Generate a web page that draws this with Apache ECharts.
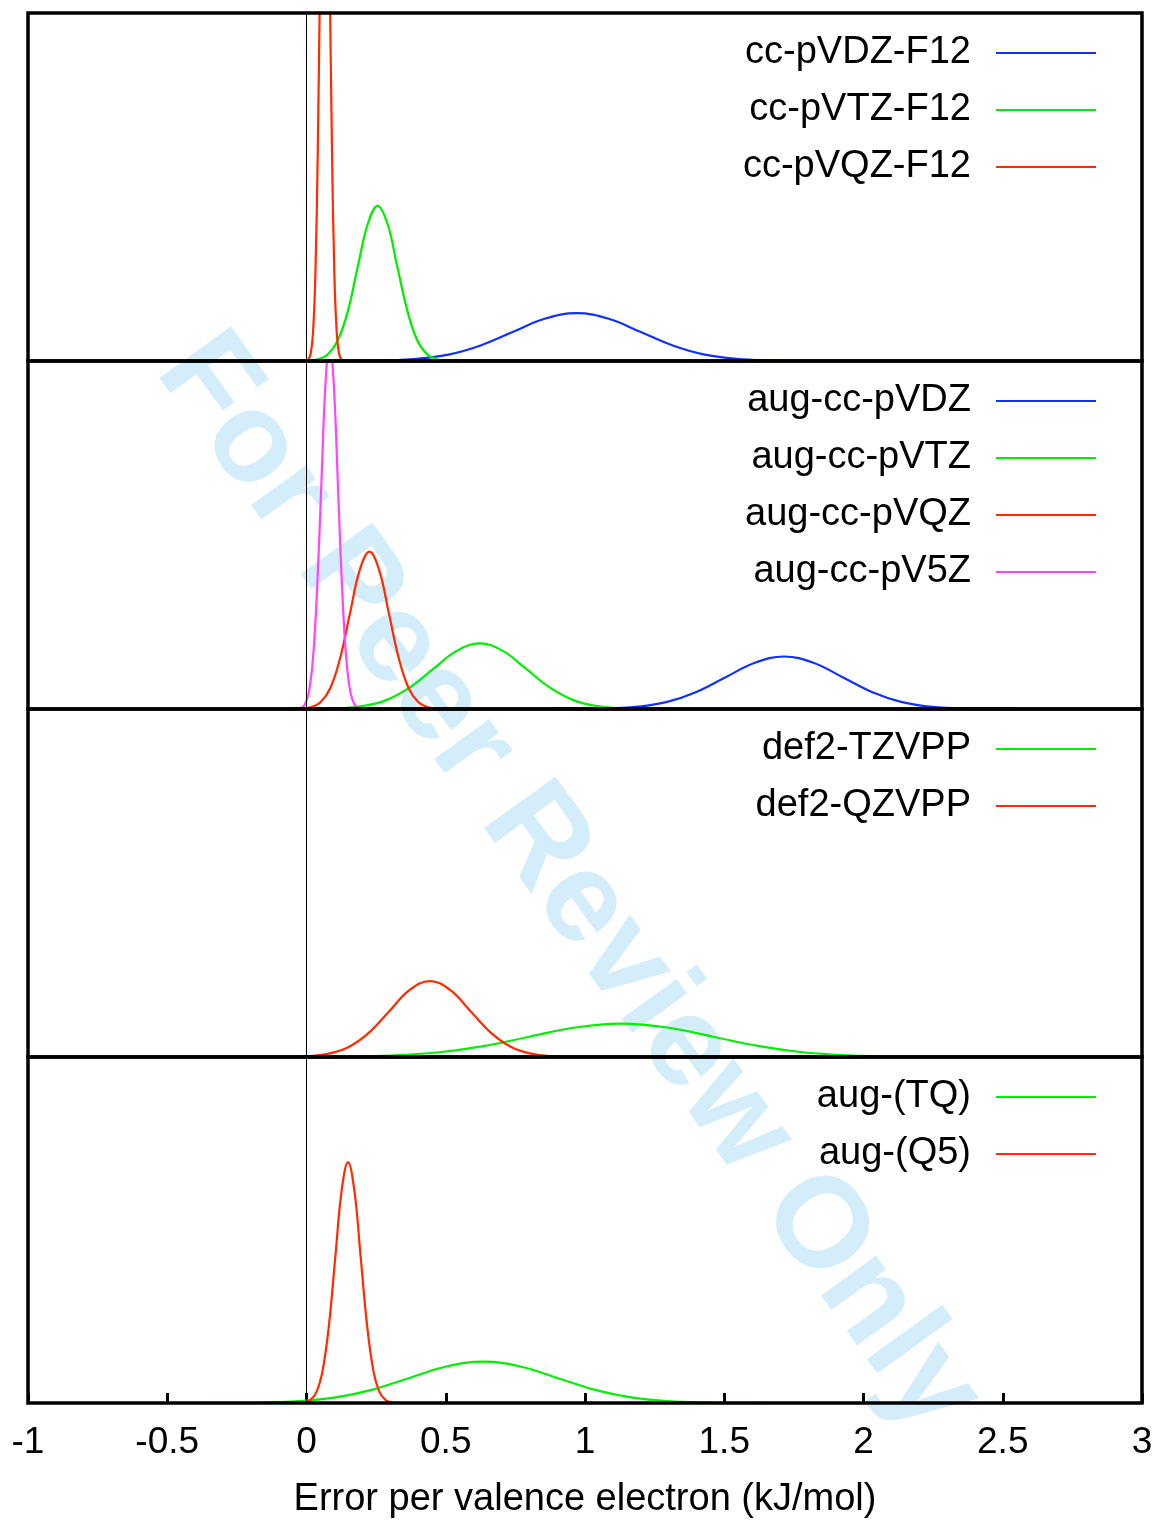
<!DOCTYPE html>
<html>
<head>
<meta charset="utf-8">
<script src="https://cdn.jsdelivr.net/npm/echarts@6/dist/echarts.min.js"></script>
<style>
html,body{margin:0;padding:0;background:#fff;}
#chart{width:1160px;height:1520px;}
</style>
</head>
<body>
<div id="chart"></div>
<script>
// ---------- data ----------
const xTickLabels = ['-1', '-0.5', '0', '0.5', '1', '1.5', '2', '2.5', '3'];
const xAxisName = 'Error per valence electron (kJ/mol)';
const watermarkText = 'For Peer Review Only';

// Panel 1
const ccVDZF12_x = [0.05, 0.165, 0.28, 0.395, 0.51, 0.625, 0.74, 0.855, 0.97, 1.085, 1.2, 1.315, 1.43, 1.545, 1.66, 1.775, 1.89];
const ccVDZF12_y = [0.00, 0.00, 0.02, 0.08, 0.23, 0.56, 1.05, 1.53, 1.73, 1.53, 1.05, 0.56, 0.23, 0.08, 0.02, 0.00, 0.00];
const ccVTZF12_x = [-0.029, 0.006, 0.042, 0.077, 0.113, 0.149, 0.184, 0.220, 0.255, 0.291, 0.326, 0.362, 0.397, 0.433, 0.468, 0.504, 0.539];
const ccVTZF12_y = [0.002, 0.012, 0.062, 0.247, 0.760, 1.825, 3.409, 4.960, 5.62, 4.960, 3.409, 1.825, 0.760, 0.247, 0.062, 0.012, 0.002];
const ccVQZF12_x = [-0.002, 0.0065, 0.015, 0.0235, 0.032, 0.0405, 0.049, 0.0575, 0.066, 0.0745, 0.083, 0.0915, 0.100, 0.1085, 0.117, 0.1255, 0.134];
const ccVQZF12_y = [0.008, 0.052, 0.261, 1.032, 3.180, 7.630, 14.25, 20.74, 23.5, 20.74, 14.25, 7.630, 3.180, 1.032, 0.261, 0.052, 0.008];

// Panel 2
const augVDZ_x = [0.875, 0.98, 1.085, 1.19, 1.295, 1.40, 1.505, 1.61, 1.715, 1.82, 1.925, 2.03, 2.135, 2.24, 2.345, 2.45, 2.555];
const augVDZ_y = [0.001, 0.004, 0.021, 0.083, 0.257, 0.617, 1.152, 1.677, 1.90, 1.677, 1.152, 0.617, 0.257, 0.083, 0.021, 0.004, 0.001];
const augVTZ_x = [-0.05, 0.034, 0.118, 0.202, 0.286, 0.37, 0.454, 0.538, 0.622, 0.706, 0.79, 0.874, 0.958, 1.042, 1.126, 1.21, 1.294];
const augVTZ_y = [0.001, 0.005, 0.026, 0.104, 0.321, 0.771, 1.440, 2.096, 2.375, 2.096, 1.440, 0.771, 0.321, 0.104, 0.026, 0.005, 0.001];
const augVQZ_x = [-0.054, -0.019, 0.016, 0.051, 0.086, 0.121, 0.156, 0.191, 0.226, 0.261, 0.296, 0.331, 0.366, 0.401, 0.436, 0.471, 0.506];
const augVQZ_y = [0.002, 0.013, 0.063, 0.250, 0.771, 1.851, 3.457, 5.030, 5.70, 5.030, 3.457, 1.851, 0.771, 0.250, 0.063, 0.013, 0.002];
const augV5Z_x = [-0.037, -0.022, -0.007, 0.008, 0.023, 0.038, 0.053, 0.068, 0.083, 0.098, 0.113, 0.128, 0.143, 0.158, 0.173, 0.188, 0.203];
const augV5Z_y = [0.004, 0.029, 0.148, 0.584, 1.800, 4.319, 8.066, 11.737, 13.3, 11.737, 8.066, 4.319, 1.800, 0.584, 0.148, 0.029, 0.004];

// Panel 3
const def2TZVPP_x = [-0.19, -0.025, 0.14, 0.305, 0.47, 0.635, 0.80, 0.965, 1.13, 1.295, 1.46, 1.625, 1.79, 1.955, 2.12, 2.285, 2.45];
const def2TZVPP_y = [0.000, 0.003, 0.013, 0.053, 0.164, 0.393, 0.734, 1.068, 1.21, 1.068, 0.734, 0.393, 0.164, 0.053, 0.013, 0.003, 0.000];
const def2QZVPP_x = [-0.137, -0.0645, 0.008, 0.0805, 0.153, 0.2255, 0.298, 0.3705, 0.443, 0.5155, 0.588, 0.6605, 0.733, 0.8055, 0.878, 0.9505, 1.023];
const def2QZVPP_y = [0.001, 0.006, 0.031, 0.121, 0.372, 0.893, 1.668, 2.427, 2.75, 2.427, 1.668, 0.893, 0.372, 0.121, 0.031, 0.006, 0.001];

// Panel 4
const augTQ_x = [-0.425, -0.2925, -0.16, -0.0275, 0.105, 0.2375, 0.37, 0.5025, 0.635, 0.7675, 0.90, 1.0325, 1.165, 1.2975, 1.43, 1.5625, 1.695];
const augTQ_y = [0.000, 0.003, 0.017, 0.066, 0.204, 0.489, 0.913, 1.328, 1.505, 1.328, 0.913, 0.489, 0.204, 0.066, 0.017, 0.003, 0.000];
const augQ5_x = [-0.033, -0.0103, 0.0125, 0.0353, 0.058, 0.0808, 0.1035, 0.1263, 0.149, 0.1718, 0.1945, 0.2173, 0.24, 0.2628, 0.2855, 0.3083, 0.331];
const augQ5_y = [0.003, 0.019, 0.097, 0.385, 1.187, 2.848, 5.319, 7.740, 8.77, 7.740, 5.319, 2.848, 1.187, 0.385, 0.097, 0.019, 0.003];

const panels = [
  [ {name: 'cc-pVDZ-F12', x: ccVDZF12_x, y: ccVDZF12_y, color: 'blue'},
    {name: 'cc-pVTZ-F12', x: ccVTZF12_x, y: ccVTZF12_y, color: 'green'},
    {name: 'cc-pVQZ-F12', x: ccVQZF12_x, y: ccVQZF12_y, color: 'red'} ],
  [ {name: 'aug-cc-pVDZ', x: augVDZ_x, y: augVDZ_y, color: 'blue'},
    {name: 'aug-cc-pVTZ', x: augVTZ_x, y: augVTZ_y, color: 'green'},
    {name: 'aug-cc-pVQZ', x: augVQZ_x, y: augVQZ_y, color: 'red'},
    {name: 'aug-cc-pV5Z', x: augV5Z_x, y: augV5Z_y, color: 'magenta'} ],
  [ {name: 'def2-TZVPP', x: def2TZVPP_x, y: def2TZVPP_y, color: 'green'},
    {name: 'def2-QZVPP', x: def2QZVPP_x, y: def2QZVPP_y, color: 'red'} ],
  [ {name: 'aug-(TQ)', x: augTQ_x, y: augTQ_y, color: 'green'},
    {name: 'aug-(Q5)', x: augQ5_x, y: augQ5_y, color: 'red'} ]
];

// ---------- styling / layout ----------
const COLORS = {blue: '#1030ff', green: '#00ee00', red: '#ff2a00', magenta: '#ff44ff'};
const FONT = "'Liberation Sans', Arial, Helvetica, sans-serif";
const L = 28, R = 1160 - 1142, TOP = 13, BOTTOM = 1405;
const PH = (BOTTOM - TOP) / 4;
const X_MIN = -1, X_MAX = 3, X_STEP = 0.5;
const Y_MAX = 12.6;

const grids = [], xAxes = [], yAxes = [], series = [], legends = [];
panels.forEach((panel, i) => {
  const top = TOP + i * PH;
  grids.push({left: L, right: R, top: top, height: PH, show: true,
    borderColor: '#000', borderWidth: 3.5, backgroundColor: 'transparent', z: 3});
  const last = i === panels.length - 1;
  xAxes.push({
    type: 'value', gridIndex: i, min: X_MIN, max: X_MAX, interval: X_STEP,
    axisLine: {show: false},
    axisTick: {show: last, inside: true, length: 10, lineStyle: {color: '#000', width: 3}},
    axisLabel: {show: last, margin: 21, fontSize: 37, color: '#000', fontFamily: FONT,
      formatter: v => xTickLabels[Math.round((v - X_MIN) / X_STEP)]},
    splitLine: {show: false},
    name: last ? xAxisName : '', nameLocation: 'middle', nameGap: 78,
    nameTextStyle: {fontSize: 38, color: '#000', fontFamily: FONT}
  });
  yAxes.push({type: 'value', gridIndex: i, min: 0, max: Y_MAX, show: false,
    splitLine: {show: false}});
  panel.forEach((s, k) => {
    const ser = {
      type: 'line', name: s.name, xAxisIndex: i, yAxisIndex: i,
      data: s.x.map((xv, j) => [xv, s.y[j]]),
      smooth: 0.4, symbol: 'none', clip: true,
      color: COLORS[s.color],
      lineStyle: {color: COLORS[s.color], width: 2.2},
      z: 2
    };
    if (k === 0) {
      ser.markLine = {silent: true, symbol: ['none', 'none'], label: {show: false},
        lineStyle: {color: '#000', width: 1, type: 'solid'}, data: [{xAxis: 0}], animation: false};
    }
    series.push(ser);
  });
  legends.push({
    data: panel.map(s => s.name), orient: 'vertical', align: 'right',
    right: 1160 - 1096, top: top + 20, itemWidth: 100, itemHeight: 2, itemGap: 17,
    icon: 'rect', selectedMode: false, padding: 0,
    textStyle: {fontSize: 38, color: '#000', fontFamily: FONT, lineHeight: 40, padding: [0, 20, 0, 0]}
  });
});

const chart = echarts.init(document.getElementById('chart'), null, {renderer: 'canvas'});
chart.setOption({
  animation: false,
  backgroundColor: '#fff',
  grid: grids, xAxis: xAxes, yAxis: yAxes, series: series, legend: legends,
  graphic: [{
    type: 'text', x: 568, y: 884, rotation: -54.2 * Math.PI / 180, z: -10, silent: true,
    style: {text: watermarkText, fontSize: 128, fontWeight: 'bold', fontFamily: FONT,
      fill: '#d3edfa', align: 'center', verticalAlign: 'middle'}
  }]
});
</script>
</body>
</html>
